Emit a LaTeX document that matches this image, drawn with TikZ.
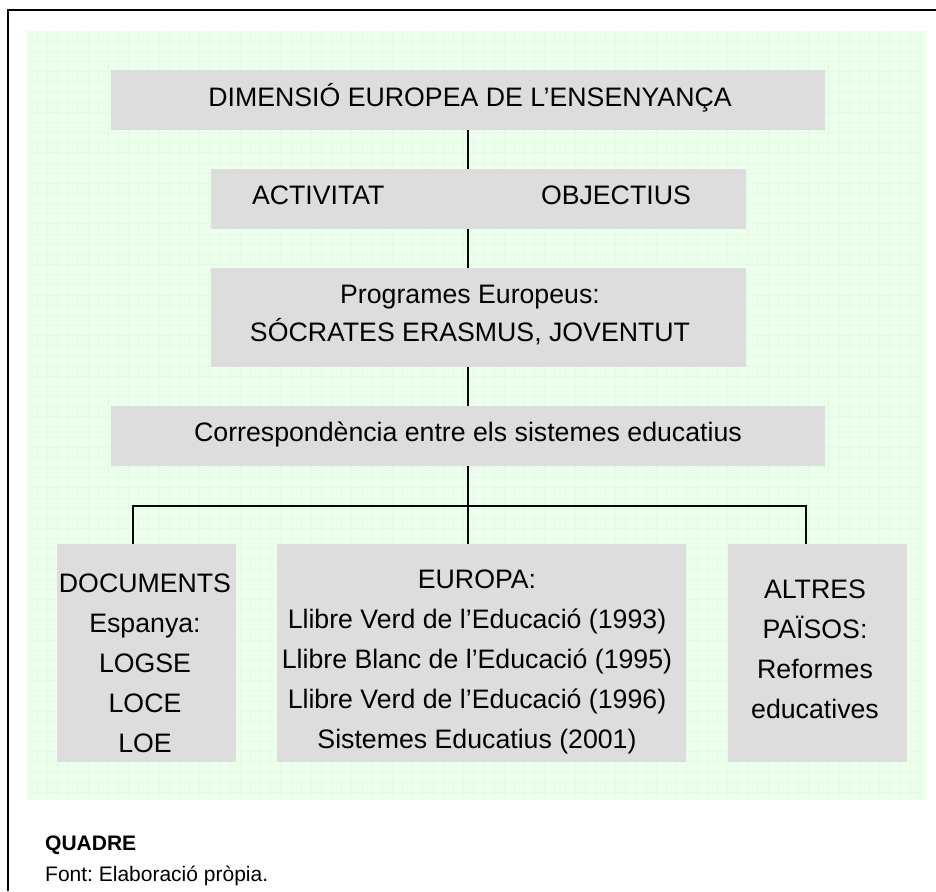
\documentclass[tikz,border=0pt]{standalone}
\usepackage{fontspec}
\setmainfont{Liberation Sans}
\frenchspacing
\definecolor{boxgray}{RGB}{221,221,221}
\definecolor{bggreen}{RGB}{236,255,236}
\definecolor{gridgreen}{RGB}{227,251,227}
\begin{document}
\begin{tikzpicture}[x=1pt,y=-1pt,
  box/.style={draw=none,fill=boxgray,inner sep=0pt,outer sep=0pt},
  txt/.style={inner sep=0pt,outer sep=0pt,anchor=base,font=\fontsize{26.7}{40}\selectfont},
  conn/.style={line width=1.8pt,black},
  frame/.style={line width=2pt,black}]
\useasboundingbox (0,0) rectangle (936,891);
% frame (top and left only)
\draw[frame] (7.5,891) -- (7.5,10.5) -- (936,10.5);
% green grid background
\fill[bggreen] (27,31) rectangle (925.7,800);
\foreach \i in {1,...,88} {\draw[gridgreen,line width=0.8pt] ({27+10.15*\i},31) -- ({27+10.15*\i},800);}
\foreach \j in {1,...,75} {\draw[gridgreen,line width=0.8pt] (27,{31+10.15*\j}) -- (925.7,{31+10.15*\j});}
% boxes
\node[box,minimum width=714,minimum height=60] (n1) at (468,100) {};
\node[box,minimum width=535,minimum height=60] (n2) at (478.5,199) {};
\node[box,minimum width=535,minimum height=98.4] (n3) at (478.5,317.5) {};
\node[box,minimum width=714,minimum height=60] (n4) at (468,436) {};
\node[box,minimum width=179,minimum height=218] (b1) at (146.5,653) {};
\node[box,minimum width=409,minimum height=218] (b2) at (481.5,653) {};
\node[box,minimum width=179,minimum height=218] (b3) at (817.5,653) {};
% texts
\node[txt] (t1) at (470,106) {DIMENSIÓ EUROPEA DE L’ENSENYANÇA};
\node[txt,anchor=base west] (t2a) at (252,204) {ACTIVITAT};
\node[txt,anchor=base west] (t2b) at (541,204) {OBJECTIUS};
\node[txt] (t3) at (470,303) {\def\arraystretch{0.97}\begin{tabular}[t]{@{}c@{}}Programes Europeus:\\SÓCRATES ERASMUS, JOVENTUT\end{tabular}};
\node[txt] (t4) at (468,441) {Correspondència entre els sistemes educatius};
\node[txt] (t5) at (145,592) {\begin{tabular}[t]{@{}c@{}}DOCUMENTS\\Espanya:\\LOGSE\\LOCE\\LOE\end{tabular}};
\node[txt] (t6) at (477,588) {\begin{tabular}[t]{@{}c@{}}EUROPA:\\Llibre Verd de l’Educació (1993)\\Llibre Blanc de l’Educació (1995)\\Llibre Verd de l’Educació (1996)\\Sistemes Educatius (2001)\end{tabular}};
\node[txt] (t7) at (815,598) {\begin{tabular}[t]{@{}c@{}}ALTRES\\PAÏSOS:\\Reformes\\educatives\end{tabular}};
% connectors
\coordinate (j) at (468,505.7);
\coordinate (jl) at (133.3,505.7);
\coordinate (jr) at (805.7,505.7);
\draw[conn] (n1.south) -- (n1.south |- n2.north);
\draw[conn] (n1.south |- n2.south) -- (n1.south |- n3.north);
\draw[conn] (n4.north |- n3.south) -- (n4.north);
\draw[conn] (n4.south) -- (j);
\draw[conn] (jl |- b1.north) -- (jl) -- (jr) -- (jr |- b3.north);
\draw[conn] (j) -- (j |- b2.north);
% caption
\node[inner sep=0pt,anchor=base west,font=\fontsize{21}{25}\selectfont\bfseries] (q) at (45,850) {QUADRE};
\node[inner sep=0pt,anchor=base west,font=\fontsize{21}{25}\selectfont] (f) at (45,881.7) {Font: Elaboració pròpia.};
\end{tikzpicture}
\end{document}
